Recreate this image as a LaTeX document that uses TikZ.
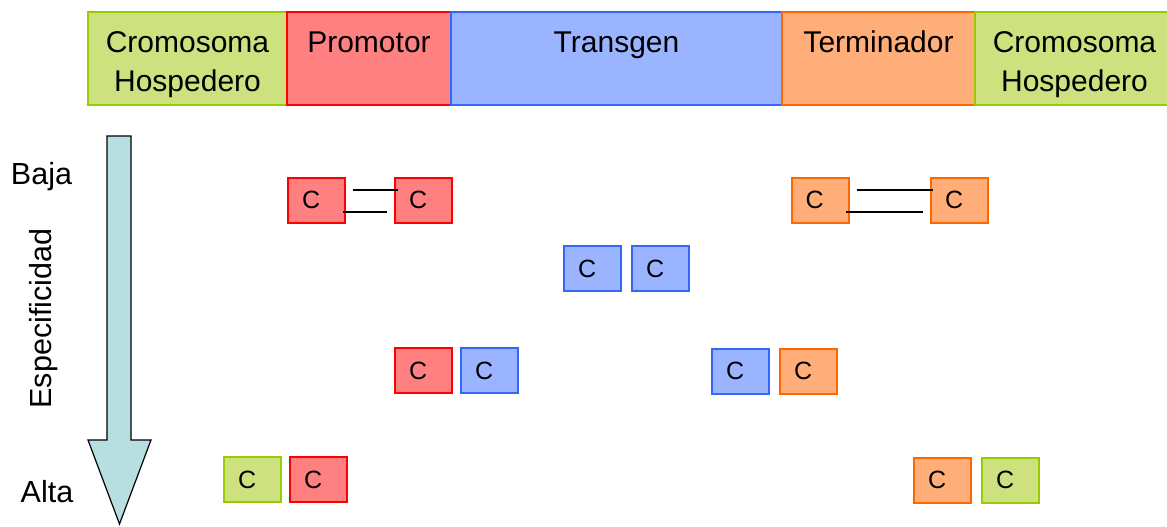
\documentclass[tikz,border=0pt]{standalone}
\usepackage{fontspec}
\setmainfont{Liberation Sans}
\usepackage{tikz}
\usetikzlibrary{positioning}
\usepackage{xcolor}
\definecolor{Green}{RGB}{153,204,0}
\definecolor{LiteGreen}{RGB}{205,226,127}
\definecolor{Red}{RGB}{255,0,0}
\definecolor{LiteRed}{RGB}{255,128,128}
\definecolor{Blue}{RGB}{51,102,255}
\definecolor{LiteBlue}{RGB}{155,180,255}
\definecolor{Orange}{RGB}{255,102,0}
\definecolor{LiteOrange}{RGB}{255,174,122}
\definecolor{LiteTeal}{RGB}{183,222,225}
\tikzset{%
  region/.style={%
    rectangle,%
    line width=2pt,%
    outer sep=0pt,%
    minimum height=93,%
    inner ysep=0pt,%
    font={\fontsize{30}{39}\selectfont},%
    align=center%
  },
  cbox/.style={%
    rectangle,%
    line width=2pt,%
    outer sep=0pt,%
    minimum width=57,%
    minimum height=45,%
    inner xsep=14pt,%
    text width=29pt,%
    align=left,%
    font={\fontsize{25}{30}\selectfont}%
  },
  link/.style={%
    color=black,%
    line width=2pt%
  },
  annotate/.style={%
    font={\fontsize{30.5}{36}\selectfont}%
  },
  spec_arrow/.style={%
    draw=black,%
    fill=LiteTeal,%
    line width=1.2pt,%
    line join=miter%
  },
}

\begin{document}
\begin{tikzpicture}[x=1pt, y=-1pt]

    \useasboundingbox (0,0) rectangle (1167,527);

    % construct
    \node [region, draw=Green, fill=LiteGreen, minimum width=199] (host_left) at (187.5,58.5)
      {\rule{0pt}{38pt}Cromosoma\\Hospedero\strut};
    \node [region, draw=Red, fill=LiteRed, minimum width=164, right = 0 of host_left] (promoter)
      {\rule{0pt}{38pt}Promotor\\\strut};
    \node [region, draw=Blue, fill=LiteBlue, minimum width=331, right = 0 of promoter] (transgene)
      {\rule{0pt}{38pt}Transgen\\\strut};
    \node [region, draw=Orange, fill=LiteOrange, minimum width=193, right = 0 of transgene] (terminator)
      {\rule{0pt}{38pt}Terminador\\\strut};
    \node [region, draw=Green, fill=LiteGreen, minimum width=199, right = 0 of terminator] (host_right)
      {\rule{0pt}{38pt}Cromosoma\\Hospedero\strut};

    % specificity axis
    \draw [spec_arrow]
      (107,136) -- (131,136) -- (131,440) -- (151,440)
      -- (119.5,524) -- (88,440) -- (107,440) -- cycle;
    \node [annotate, anchor=base] (low) at (41.5,184) {Baja};
    \node [annotate, anchor=base] (high) at (47,502) {Alta};
    \node [annotate, anchor=base, rotate=90] (specificity) at (51,318.5) {Especificidad};

    % low: inside promoter / terminator
    \node [cbox, draw=Red, fill=LiteRed] (prom_a) at (316.5,200) {C};
    \node [cbox, draw=Red, fill=LiteRed] (prom_b) at (423.5,200) {C};
    \node [cbox, draw=Orange, fill=LiteOrange] (term_a) at (820,200) {C};
    \node [cbox, draw=Orange, fill=LiteOrange] (term_b) at (959.5,200) {C};

    \draw [link] ([shift={(8,-10)}]prom_a.east) -- ([shift={(3,-10)}]prom_b.west);
    \draw [link] ([shift={(-2,12)}]prom_a.east) -- ([shift={(-8,12)}]prom_b.west);
    \draw [link] ([shift={(8,-10)}]term_a.east) -- ([shift={(2,-10)}]term_b.west);
    \draw [link] ([shift={(-3,12)}]term_a.east) -- ([shift={(-8,12)}]term_b.west);

    % inside transgene
    \node [cbox, draw=Blue, fill=LiteBlue] (trans_a) at (592.5,268.5) {C};
    \node [cbox, draw=Blue, fill=LiteBlue, right = 11 of trans_a] (trans_b) {C};

    % junctions with transgene
    \node [cbox, draw=Red, fill=LiteRed] (prom_c) at (423.5,370.5) {C};
    \node [cbox, draw=Blue, fill=LiteBlue, right = 9 of prom_c] (trans_c) {C};
    \node [cbox, draw=Blue, fill=LiteBlue] (trans_d) at (740.5,371) {C};
    \node [cbox, draw=Orange, fill=LiteOrange, right = 11 of trans_d] (term_c) {C};

    % high: junctions with host
    \node [cbox, draw=Green, fill=LiteGreen] (host_a) at (252.5,479.5) {C};
    \node [cbox, draw=Red, fill=LiteRed, right = 9 of host_a] (prom_d) {C};
    \node [cbox, draw=Orange, fill=LiteOrange] (term_d) at (942.5,480) {C};
    \node [cbox, draw=Green, fill=LiteGreen, right = 11 of term_d] (host_b) {C};

  \end{tikzpicture}
\end{document}
